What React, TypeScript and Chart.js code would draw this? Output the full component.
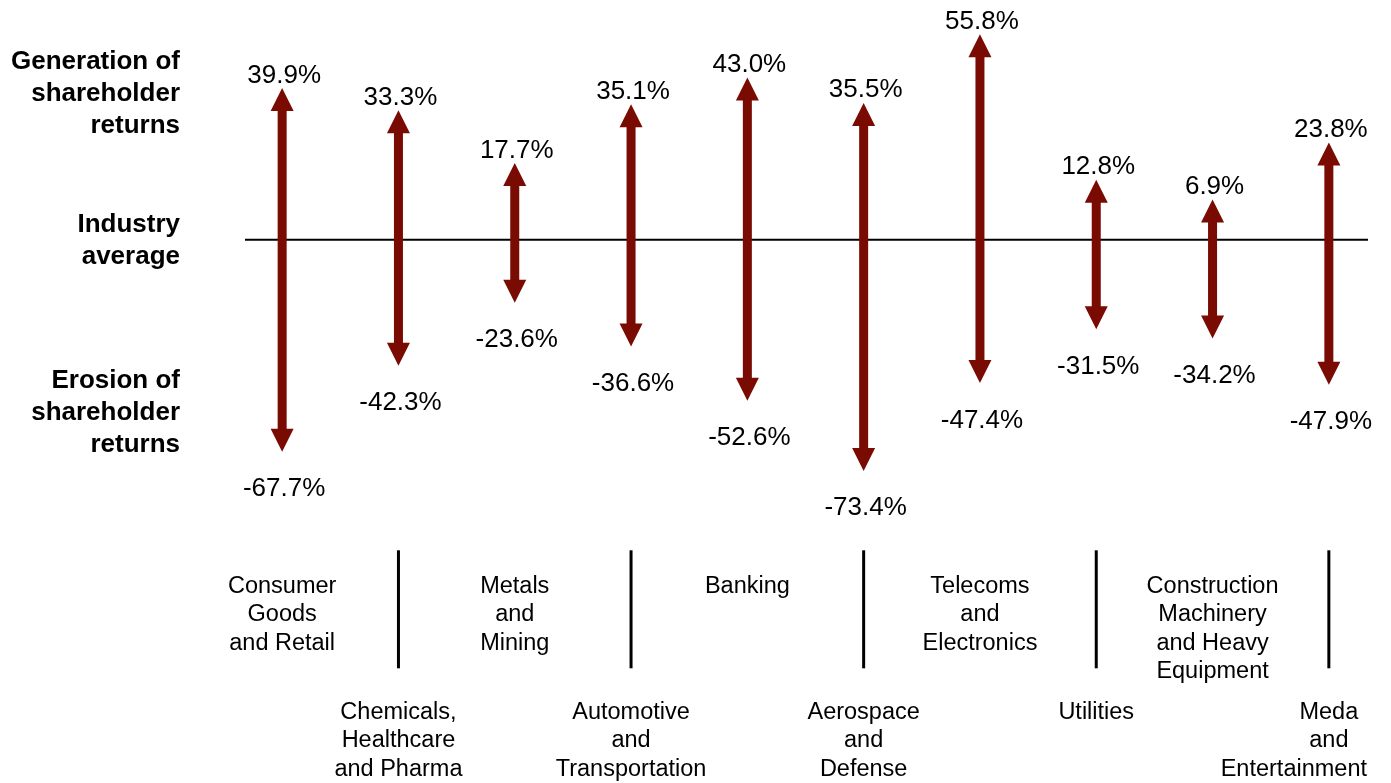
import React, { useEffect, useRef } from "react";
import { Chart, registerables } from "chart.js";

Chart.register(...registerables);

// ---- data ----
const categories: string[][] = [
  ["Consumer", "Goods", "and Retail"],
  ["Chemicals,", "Healthcare", "and Pharma"],
  ["Metals", "and", "Mining"],
  ["Automotive", "and", "Transportation"],
  ["Banking"],
  ["Aerospace", "and", "Defense"],
  ["Telecoms", "and", "Electronics"],
  ["Utilities"],
  ["Construction", "Machinery", "and Heavy", "Equipment"],
  ["Meda", "and", "Entertainment"],
];
const upside = [39.9, 33.3, 17.7, 35.1, 43.0, 35.5, 55.8, 12.8, 6.9, 23.8];
const downside = [-67.7, -42.3, -23.6, -36.6, -52.6, -73.4, -47.4, -31.5, -34.2, -47.9];
const sideLabels: string[][] = [
  ["Generation of", "shareholder", "returns"],
  ["Industry", "average"],
  ["Erosion of", "shareholder", "returns"],
];
const industryAverageLine = -5;
const yMin = -80;
const yMax = 65;

// ---- styles ----
const FONT = '"Liberation Sans", Arial, Helvetica, sans-serif';
const ARROW = "#7a0b03";
const TEXT_RIGHT_LIMIT = 1367;

const fmt = (v: number) => `${v.toFixed(1)}%`;

const arrowPlugin = {
  id: "arrowPlugin",
  beforeDatasetsDraw(chart: any) {
    const { ctx, chartArea, scales } = chart;
    const y = scales.y.getPixelForValue(industryAverageLine);
    ctx.save();
    ctx.strokeStyle = "#000";
    ctx.lineWidth = 2;
    ctx.beginPath();
    ctx.moveTo(chartArea.left + 21, y);
    ctx.lineTo(chartArea.right - 19, y);
    ctx.stroke();
    ctx.restore();
  },
  afterDatasetsDraw(chart: any) {
    const { ctx, scales } = chart;
    const meta = chart.getDatasetMeta(0);
    const hw = 11.5;
    const hh = 23;
    const sw = 4.5;
    ctx.save();
    meta.data.forEach((el: any, i: number) => {
      const x = el.x;
      const top = scales.y.getPixelForValue(upside[i]);
      const bot = scales.y.getPixelForValue(downside[i]);
      ctx.fillStyle = ARROW;
      ctx.fillRect(x - sw, top + hh - 1, sw * 2, bot - top - 2 * hh + 2);
      ctx.beginPath();
      ctx.moveTo(x, top);
      ctx.lineTo(x + hw, top + hh);
      ctx.lineTo(x - hw, top + hh);
      ctx.closePath();
      ctx.fill();
      ctx.beginPath();
      ctx.moveTo(x, bot);
      ctx.lineTo(x + hw, bot - hh);
      ctx.lineTo(x - hw, bot - hh);
      ctx.closePath();
      ctx.fill();

      ctx.fillStyle = "#000";
      ctx.font = `26px ${FONT}`;
      ctx.textAlign = "center";
      ctx.textBaseline = "alphabetic";
      ctx.fillText(fmt(upside[i]), x + 2, top - 5.5);
      ctx.fillText(fmt(downside[i]), x + 2, bot + 44.5);
    });
    ctx.restore();
  },
  afterDraw(chart: any) {
    const { ctx, chartArea, scales } = chart;
    const xs = scales.x;
    const base = chartArea.bottom;
    const lh = 28.5;
    ctx.save();
    // category labels, alternating rows
    ctx.fillStyle = "#000";
    ctx.font = `23.5px ${FONT}`;
    ctx.textAlign = "center";
    ctx.textBaseline = "middle";
    categories.forEach((lines, i) => {
      const x = xs.getPixelForValue(i);
      const y0 = i % 2 === 0 ? base + 93 : base + 219;
      lines.forEach((t, k) => {
        const w = ctx.measureText(t).width;
        const cx = Math.min(x, TEXT_RIGHT_LIMIT - w / 2);
        ctx.fillText(t, cx, y0 + k * lh);
      });
      if (i % 2 === 1) {
        ctx.strokeStyle = "#000";
        ctx.lineWidth = 3;
        ctx.beginPath();
        ctx.moveTo(x, base + 57);
        ctx.lineTo(x, base + 175);
        ctx.stroke();
      }
    });
    // side labels
    const avgY = scales.y.getPixelForValue(industryAverageLine);
    const centers = [avgY - 146, avgY + 1, avgY + 173];
    ctx.font = `bold 26px ${FONT}`;
    ctx.textAlign = "right";
    sideLabels.forEach((lines, g) => {
      const n = lines.length;
      lines.forEach((t, k) => {
        ctx.fillText(t, 180, centers[g] + (k - (n - 1) / 2) * 32);
      });
    });
    ctx.restore();
  },
};

export default function App() {
  const ref = useRef<HTMLCanvasElement | null>(null);
  useEffect(() => {
    if (!ref.current) return;
    const chart = new Chart(ref.current, {
      type: "bar",
      data: {
        labels: categories.map((c) => c.join(" ")),
        datasets: [
          {
            label: "Range",
            data: categories.map((_, i) => [downside[i], upside[i]]) as any,
            backgroundColor: "rgba(0,0,0,0)",
            borderWidth: 0,
            barThickness: 9,
          },
        ],
      },
      options: {
        animation: false,
        responsive: false,
        devicePixelRatio: 1,
        layout: { padding: { left: 224, right: 4, top: 3.2, bottom: 289.7 } },
        plugins: { legend: { display: false }, tooltip: { enabled: false } },
        scales: {
          x: { display: false, offset: true },
          y: { display: false, min: yMin, max: yMax },
        },
      },
      plugins: [arrowPlugin],
    });
    return () => chart.destroy();
  }, []);
  return (
    <div style={{ position: "fixed", left: 0, top: 0, width: 1391, height: 783, background: "#fff" }}>
      <canvas ref={ref} width={1391} height={783} style={{ width: 1391, height: 783 }} />
    </div>
  );
}
